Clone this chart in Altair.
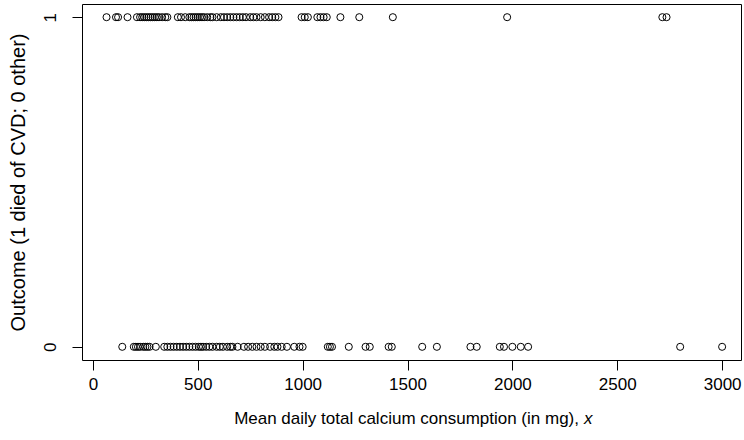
import altair as alt
import pandas as pd

# Outcome = 1 (died of CVD): calcium values in mg
died_cvd = [65, 110, 120, 165,
            210, 225, 235, 245, 255, 265, 275, 285, 295, 305, 315,
            330, 345, 355, 405, 420, 440,
            460, 470, 480, 490, 500, 510, 520, 530, 545, 560, 570,
            590, 610, 625, 640, 655, 670, 685, 700, 715, 730, 750, 765,
            780, 800, 820, 840, 855, 870, 885,
            995, 1010, 1025, 1070, 1085, 1100, 1115,
            1180, 1270, 1430, 1975, 2715, 2735]

# Outcome = 0 (other)
other = [140, 195, 205, 215, 225, 240, 250, 260, 270, 300, 340, 355, 370,
         385, 400, 415, 430, 445, 460, 475, 490, 505, 515, 525, 540, 555,
         570, 590, 605, 620, 640, 655, 665, 690, 720, 740, 760, 780, 800,
         820, 845, 865, 880, 900, 925, 960, 985, 1000, 1120, 1130, 1140,
         1220, 1300, 1320, 1410, 1425, 1570, 1640, 1800, 1830, 1940, 1960,
         2000, 2040, 2075, 2800, 3000]

x_ticks = [0, 500, 1000, 1500, 2000, 2500, 3000]
y_ticks = [0, 1]

x_title_main = ["Mean daily total calcium consumption (in mg),"]
x_title_var = ["x"]

df = pd.DataFrame({
    "calcium": died_cvd + other,
    "outcome": [1] * len(died_cvd) + [0] * len(other),
})

FONT = "Liberation Sans"

points = alt.Chart(df).mark_point(
    shape="circle", filled=False, color="black", size=50, strokeWidth=1, opacity=1
).encode(
    x=alt.X("calcium:Q",
            scale=alt.Scale(domain=[-52, 3090], nice=False, zero=False),
            axis=alt.Axis(values=x_ticks, title=None, format="d",
                          domain=False, grid=False, tickSize=10, tickColor="black",
                          labelFontSize=17, labelColor="black", labelPadding=6)),
    y=alt.Y("outcome:Q",
            scale=alt.Scale(domain=[-0.04, 1.04], nice=False, zero=False),
            axis=alt.Axis(values=y_ticks, title="Outcome (1 died of CVD; 0 other)",
                          format="d",
                          domain=False, grid=False, tickSize=10, tickColor="black",
                          labelAngle=270, labelAlign="center", labelBaseline="bottom",
                          labelFontSize=17, labelColor="black", labelPadding=13,
                          titleFontSize=20, titleFontWeight="normal", titleColor="black",
                          titleBaseline="middle", titleX=-64, titleY=178)),
)

title_main = alt.Chart(pd.DataFrame({"t": x_title_main})).mark_text(
    align="right", baseline="alphabetic", fontSize=17, color="black", font=FONT
).encode(text="t:N", x=alt.value(497), y=alt.value(420))

title_var = alt.Chart(pd.DataFrame({"t": x_title_var})).mark_text(
    align="left", baseline="alphabetic", fontSize=17, color="black", font=FONT,
    fontStyle="italic"
).encode(text="t:N", x=alt.value(502), y=alt.value(420))

chart = alt.layer(points, title_main, title_var).properties(
    width=659, height=356,
    autosize=alt.AutoSizeParams(type="none"),
    padding={"left": 82, "top": 4, "right": 3, "bottom": 80},
).configure(
    font=FONT,
).configure_view(
    stroke="black", strokeWidth=1,
).configure_axis(
    labelFont=FONT, titleFont=FONT,
)

chart.save("out.html", embed_options={"renderer": "svg", "actions": False})
